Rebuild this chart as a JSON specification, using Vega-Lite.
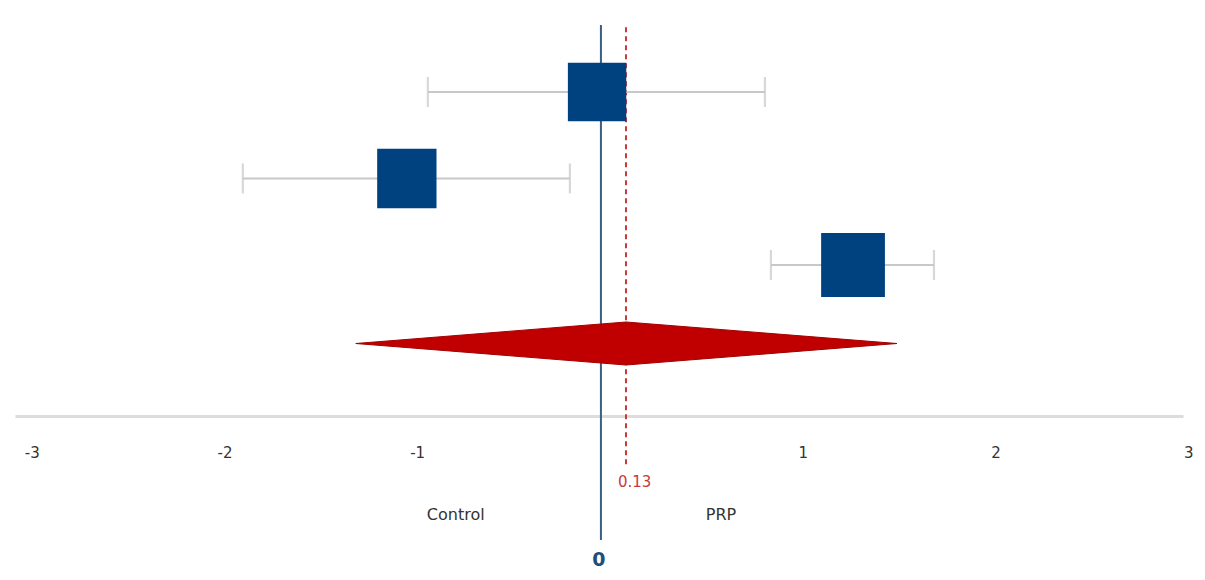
{
  "$schema": "https://vega.github.io/schema/vega-lite/v6.json",
  "autosize": "none",
  "width": 1168,
  "height": 540,
  "padding": {"left": 15, "top": 25, "right": 22, "bottom": 15},
  "background": "white",
  "config": {"view": {"stroke": null}, "font": "DejaVu Sans"},
  "datasets": {
    "studies": [
      {"study": "Study 1", "row": 1, "estimate": -0.02, "lower": -0.898, "upper": 0.851, "weight": 31},
      {"study": "Study 2", "row": 2, "estimate": -1.007, "lower": -1.858, "upper": -0.161, "weight": 32},
      {"study": "Study 3", "row": 3, "estimate": 1.308, "lower": 0.882, "upper": 1.728, "weight": 37}
    ],
    "pooled": [
      {"part": "top", "lo": 0.13, "hi": 0.13},
      {"part": "mid", "lo": -1.272, "hi": 1.536},
      {"part": "bottom", "lo": 0.13, "hi": 0.13}
    ],
    "labels": [
      {"label": "Control", "x": -0.753, "row": 5.89},
      {"label": "PRP", "x": 0.623, "row": 5.89}
    ]
  },
  "resolve": {"scale": {"y": "independent"}, "axis": {"y": "independent"}},
  "layer": [
    {
      "layer": [
        {
          "data": {"values": [{"v": 0}]},
          "mark": {"type": "rule", "color": "#3a5f87", "strokeWidth": 2},
          "encoding": {
            "x": {"datum": 0, "type": "quantitative", "scale": {"domain": [-3.04, 3.02], "nice": false, "zero": false},
              "axis": {"values": [-3, -2, -1, 1, 2, 3], "labelExpr": "'' + datum.value", "title": null, "grid": false, "ticks": false, "tickSize": 0,
                "domainColor": "#dcdcdc", "domainWidth": 3, "offset": -149, "labelPadding": 29, "labelOffset": 9,
                "labelFontSize": 15, "labelColor": "#333333", "labelFont": "DejaVu Sans"}},
            "y": {"datum": 0.2254, "type": "quantitative", "scale": {"domain": [0.2254, 6.468], "reverse": true, "nice": false, "zero": false}, "axis": null},
            "y2": {"datum": 6.18}
          }
        },
        {
          "data": {"values": [{"v": 0.13}]},
          "mark": {"type": "rule", "color": "#c8393b", "strokeWidth": 2, "strokeDash": [5, 4]},
          "encoding": {
            "x": {"field": "v", "type": "quantitative"},
            "y": {"datum": 0.25, "type": "quantitative"},
            "y2": {"datum": 5.31}
          }
        },
        {
          "data": {"name": "studies"},
          "mark": {"type": "rule", "color": "#c8c8c8", "strokeWidth": 2.2},
          "encoding": {
            "x": {"field": "lower", "type": "quantitative"},
            "x2": {"field": "upper"},
            "y": {"field": "row", "type": "quantitative"}
          }
        },
        {
          "data": {"name": "studies"},
          "mark": {"type": "tick", "orient": "vertical", "color": "#c8c8c8", "size": 30, "thickness": 2.2},
          "encoding": {
            "x": {"field": "lower", "type": "quantitative"},
            "y": {"field": "row", "type": "quantitative"}
          }
        },
        {
          "data": {"name": "studies"},
          "mark": {"type": "tick", "orient": "vertical", "color": "#c8c8c8", "size": 30, "thickness": 2.2},
          "encoding": {
            "x": {"field": "upper", "type": "quantitative"},
            "y": {"field": "row", "type": "quantitative"}
          }
        },
        {
          "data": {"name": "studies"},
          "mark": {"type": "point", "shape": "square", "filled": true, "color": "#00427f", "opacity": 1, "strokeWidth": 0},
          "encoding": {
            "x": {"field": "estimate", "type": "quantitative"},
            "y": {"field": "row", "type": "quantitative"},
            "size": {"field": "weight", "type": "quantitative", "scale": {"domain": [0, 100], "range": [0, 11000]}, "legend": null}
          }
        },
        {
          "data": {"name": "labels"},
          "mark": {"type": "text", "fontSize": 16, "color": "#333333", "align": "center", "baseline": "middle"},
          "encoding": {
            "x": {"field": "x", "type": "quantitative"},
            "y": {"field": "row", "type": "quantitative"},
            "text": {"field": "label"}
          }
        },
        {
          "data": {"values": [{"v": 0.13, "t": "0.13"}]},
          "mark": {"type": "text", "fontSize": 15, "color": "#c8393b", "align": "left", "baseline": "middle", "dx": -8},
          "encoding": {
            "x": {"field": "v", "type": "quantitative"},
            "y": {"datum": 5.51, "type": "quantitative"},
            "text": {"field": "t"}
          }
        },
        {
          "data": {"values": [{"v": 0, "t": "0"}]},
          "mark": {"type": "text", "fontSize": 19, "fontWeight": "bold", "color": "#1f4e79", "align": "center", "baseline": "middle", "dx": -2},
          "encoding": {
            "x": {"field": "v", "type": "quantitative"},
            "y": {"datum": 6.41, "type": "quantitative"},
            "text": {"field": "t"}
          }
        }
      ]
    },
    {
      "data": {"name": "pooled"},
      "mark": {"type": "area", "orient": "horizontal", "color": "#c00000", "opacity": 1, "stroke": "#a00000", "strokeWidth": 1},
      "encoding": {
        "x": {"field": "lo", "type": "quantitative"},
        "x2": {"field": "hi"},
        "y": {"field": "part", "type": "nominal", "scale": {"type": "point", "domain": ["top", "mid", "bottom"], "range": [297, 340], "padding": 0}, "axis": null}
      }
    }
  ]
}
